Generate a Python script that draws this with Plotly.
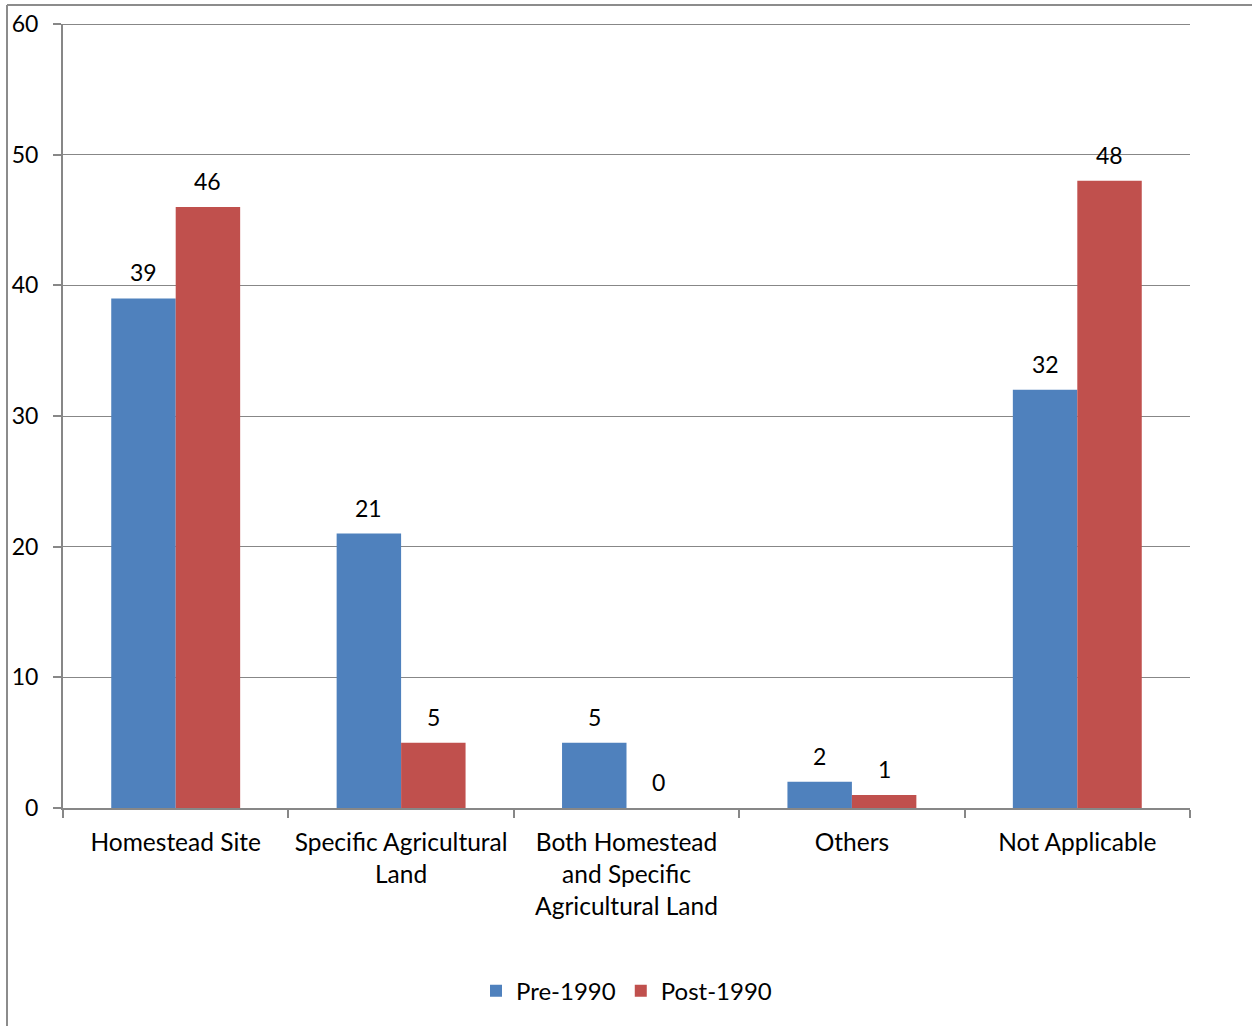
import plotly.graph_objects as go

categories = [
    "Homestead Site",
    "Specific Agricultural<br>Land",
    "Both Homestead<br>and Specific<br>Agricultural Land",
    "Others",
    "Not Applicable",
]
pre_1990 = [39, 21, 5, 2, 32]
post_1990 = [46, 5, 0, 1, 48]
y_ticks = [0, 10, 20, 30, 40, 50, 60]

W, H = 1253, 1026
ML, MR, MT, MB = 63, 63, 24, 218
FONT = "Lato, 'Open Sans', sans-serif"
GRID = "#878787"
BLUE, RED = "#4F81BD", "#C0504D"
BARGAP = 0.428

fig = go.Figure()
for name, vals, color in [("Pre-1990", pre_1990, BLUE), ("Post-1990", post_1990, RED)]:
    fig.add_trace(go.Bar(
        name=name, x=categories, y=vals,
        marker=dict(color=color, line=dict(width=0)),
        offsetgroup=name,
    ))

# value labels above each bar
bar_offset = {"Pre-1990": -0.5, "Post-1990": 0.5}
for name, vals in [("Pre-1990", pre_1990), ("Post-1990", post_1990)]:
    for i, v in enumerate(vals):
        fig.add_annotation(
            x=i + bar_offset[name] * (1 - BARGAP) / 2, y=v, xref="x", yref="y",
            text=str(v), showarrow=False, yanchor="bottom", yshift=10,
            font=dict(size=23, color="#000000", family=FONT),
        )

# gridline along the top of the value range
fig.add_shape(type="line", xref="paper", yref="y", x0=-8 / (W - ML - MR), x1=1,
              y0=y_ticks[-1], y1=y_ticks[-1], line=dict(color=GRID, width=2), layer="below")

# outer frame (left and top edges)
pw, ph = W - ML - MR, H - MT - MB
fx0 = (7 - ML) / pw
fy1 = 1 + (MT - 5) / ph
fy0 = -(H - MT - ph) / ph
fx1 = 1 + (MR - 1) / pw
fig.add_shape(type="line", xref="paper", yref="paper", x0=fx0, x1=fx0, y0=fy0, y1=fy1,
              line=dict(color="#8C8C8C", width=2))
fig.add_shape(type="line", xref="paper", yref="paper", x0=fx0, x1=fx1, y0=fy1, y1=fy1,
              line=dict(color="#8C8C8C", width=2))

fig.update_layout(
    width=W, height=H,
    margin=dict(l=ML, r=MR, t=MT, b=MB, pad=0, autoexpand=False),
    paper_bgcolor="white", plot_bgcolor="white",
    barmode="group", bargap=BARGAP, bargroupgap=0,
    font=dict(family=FONT, size=23, color="#000000"),
    showlegend=True,
    legend=dict(orientation="h", x=0.5, xanchor="center", y=-0.205, yanchor="top",
                font=dict(size=24), itemwidth=30, traceorder="normal"),
)
fig.update_xaxes(
    type="category", showgrid=False, showline=True, linecolor=GRID, linewidth=2,
    ticks="outside", tickson="boundaries", ticklen=8, tickcolor=GRID, tickwidth=2,
    tickfont=dict(size=24.5), ticklabelstandoff=12, range=[-0.5, 4.5],
)
fig.update_yaxes(
    range=[0, 60], tickvals=y_ticks, showgrid=True, gridcolor=GRID, gridwidth=1.2,
    showline=True, linecolor=GRID, linewidth=2, ticks="outside", ticklen=8,
    tickcolor=GRID, tickwidth=2, tickfont=dict(size=23), zeroline=False,
    ticklabelstandoff=10,
)

fig.write_html("out.html")
